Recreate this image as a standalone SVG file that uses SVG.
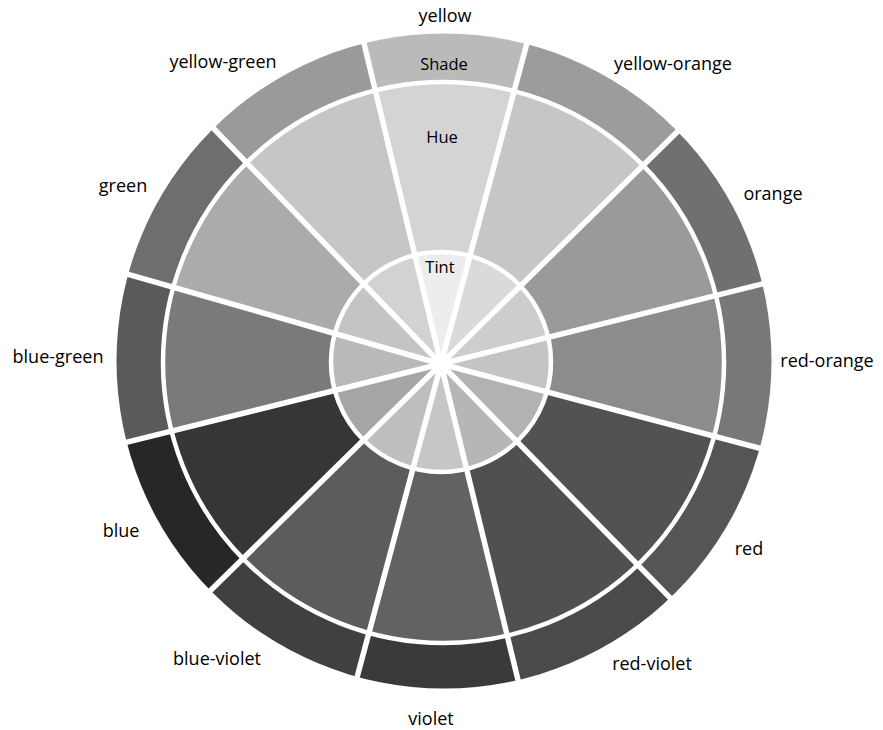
<svg xmlns="http://www.w3.org/2000/svg" width="883" height="730" viewBox="0 0 883 730">
<style>
  .lbl { font-family: "Open Sans", "Noto Sans", sans-serif; font-size: 18px; fill: #000; text-anchor: middle; }
  .ring { font-family: "Open Sans", "Noto Sans", sans-serif; font-size: 16.5px; fill: #000; text-anchor: middle; }
  .div { stroke: #fff; stroke-width: 5.5; fill: none; }
  .rl { stroke: #fff; stroke-width: 4.5; fill: none; }
</style>
<defs>
  <clipPath id="w-ro"><polygon points="441,364 827.7,466.2 829.1,267.2"/></clipPath>
  <clipPath id="w-o"><polygon points="441,364 829.1,267.2 726.3,83.6"/></clipPath>
  <clipPath id="w-yo"><polygon points="441,364 726.3,83.6 544.5,-22.4"/></clipPath>
  <clipPath id="w-y"><polygon points="441,364 544.5,-22.4 347.6,-25"/></clipPath>
  <clipPath id="w-yg"><polygon points="441,364 347.6,-25 163.1,76.3"/></clipPath>
  <clipPath id="w-g"><polygon points="441,364 163.1,76.3 56.5,253.8"/></clipPath>
  <clipPath id="w-bg"><polygon points="441,364 56.5,253.8 52.9,460.8"/></clipPath>
  <clipPath id="w-b"><polygon points="441,364 52.9,460.8 155.7,644.4"/></clipPath>
  <clipPath id="w-bv"><polygon points="441,364 155.7,644.4 337.5,750.4"/></clipPath>
  <clipPath id="w-v"><polygon points="441,364 337.5,750.4 535.7,752.6"/></clipPath>
  <clipPath id="w-rv"><polygon points="441,364 535.7,752.6 720.9,649.7"/></clipPath>
  <clipPath id="w-r"><polygon points="441,364 720.9,649.7 827.7,466.2"/></clipPath>
</defs>
<rect width="883" height="730" fill="#fff"/>

<g id="seg-yellow">
  <g clip-path="url(#w-y)">
    <circle cx="444" cy="361" r="327.5" fill="#bababa"/>
    <circle cx="443.5" cy="362.5" r="280.5" fill="#d4d4d4"/>
    <circle cx="441" cy="362" r="110" fill="#ededed"/>
  </g>
  <text class="lbl" x="445" y="22">yellow</text>
</g>
<g id="seg-yellow-orange">
  <g clip-path="url(#w-yo)">
    <circle cx="444" cy="361" r="327.5" fill="#9c9c9c"/>
    <circle cx="443.5" cy="362.5" r="280.5" fill="#c6c6c6"/>
    <circle cx="441" cy="362" r="110" fill="#dadada"/>
  </g>
  <text class="lbl" x="673" y="70">yellow-orange</text>
</g>
<g id="seg-orange">
  <g clip-path="url(#w-o)">
    <circle cx="444" cy="361" r="327.5" fill="#707070"/>
    <circle cx="443.5" cy="362.5" r="280.5" fill="#9a9a9a"/>
    <circle cx="441" cy="362" r="110" fill="#cdcdcd"/>
  </g>
  <text class="lbl" x="773" y="200">orange</text>
</g>
<g id="seg-red-orange">
  <g clip-path="url(#w-ro)">
    <circle cx="444" cy="361" r="327.5" fill="#787878"/>
    <circle cx="443.5" cy="362.5" r="280.5" fill="#8c8c8c"/>
    <circle cx="441" cy="362" r="110" fill="#c4c4c4"/>
  </g>
  <text class="lbl" x="827" y="367">red-orange</text>
</g>
<g id="seg-red">
  <g clip-path="url(#w-r)">
    <circle cx="444" cy="361" r="327.5" fill="#555555"/>
    <circle cx="443.5" cy="362.5" r="280.5" fill="#525252"/>
    <circle cx="441" cy="362" r="110" fill="#b2b2b2"/>
  </g>
  <text class="lbl" x="749" y="555">red</text>
</g>
<g id="seg-red-violet">
  <g clip-path="url(#w-rv)">
    <circle cx="444" cy="361" r="327.5" fill="#4a4a4a"/>
    <circle cx="443.5" cy="362.5" r="280.5" fill="#505050"/>
    <circle cx="441" cy="362" r="110" fill="#b6b6b6"/>
  </g>
  <text class="lbl" x="652" y="670">red-violet</text>
</g>
<g id="seg-violet">
  <g clip-path="url(#w-v)">
    <circle cx="444" cy="361" r="327.5" fill="#3a3a3a"/>
    <circle cx="443.5" cy="362.5" r="280.5" fill="#626262"/>
    <circle cx="441" cy="362" r="110" fill="#c6c6c6"/>
  </g>
  <text class="lbl" x="431" y="725">violet</text>
</g>
<g id="seg-blue-violet">
  <g clip-path="url(#w-bv)">
    <circle cx="444" cy="361" r="327.5" fill="#404040"/>
    <circle cx="443.5" cy="362.5" r="280.5" fill="#5c5c5c"/>
    <circle cx="441" cy="362" r="110" fill="#bebebe"/>
  </g>
  <text class="lbl" x="217" y="665">blue-violet</text>
</g>
<g id="seg-blue">
  <g clip-path="url(#w-b)">
    <circle cx="444" cy="361" r="327.5" fill="#272727"/>
    <circle cx="443.5" cy="362.5" r="280.5" fill="#363636"/>
    <circle cx="441" cy="362" r="110" fill="#a6a6a6"/>
  </g>
  <text class="lbl" x="121" y="537">blue</text>
</g>
<g id="seg-blue-green">
  <g clip-path="url(#w-bg)">
    <circle cx="444" cy="361" r="327.5" fill="#5a5a5a"/>
    <circle cx="443.5" cy="362.5" r="280.5" fill="#7a7a7a"/>
    <circle cx="441" cy="362" r="110" fill="#b9b9b9"/>
  </g>
  <text class="lbl" x="58" y="363">blue-green</text>
</g>
<g id="seg-green">
  <g clip-path="url(#w-g)">
    <circle cx="444" cy="361" r="327.5" fill="#6e6e6e"/>
    <circle cx="443.5" cy="362.5" r="280.5" fill="#ababab"/>
    <circle cx="441" cy="362" r="110" fill="#c4c4c4"/>
  </g>
  <text class="lbl" x="123" y="192">green</text>
</g>
<g id="seg-yellow-green">
  <g clip-path="url(#w-yg)">
    <circle cx="444" cy="361" r="327.5" fill="#9a9a9a"/>
    <circle cx="443.5" cy="362.5" r="280.5" fill="#c6c6c6"/>
    <circle cx="441" cy="362" r="110" fill="#d2d2d2"/>
  </g>
  <text class="lbl" x="223" y="68">yellow-green</text>
</g>

<g id="connectors">
  <circle class="rl" cx="443.5" cy="362.5" r="280.5"/>
  <circle class="rl" cx="441" cy="362" r="110"/>
  <line class="div" x1="441" y1="364" x2="770.9" y2="281.8"/>
  <line class="div" x1="441" y1="364" x2="683.5" y2="125.7"/>
  <line class="div" x1="441" y1="364" x2="529" y2="35.6"/>
  <line class="div" x1="441" y1="364" x2="361.6" y2="33.4"/>
  <line class="div" x1="441" y1="364" x2="204.8" y2="119.4"/>
  <line class="div" x1="441" y1="364" x2="114.2" y2="270.3"/>
  <line class="div" x1="441" y1="364" x2="111.1" y2="446.2"/>
  <line class="div" x1="441" y1="364" x2="198.5" y2="602.3"/>
  <line class="div" x1="441" y1="364" x2="353" y2="692.4"/>
  <line class="div" x1="441" y1="364" x2="521.5" y2="694.3"/>
  <line class="div" x1="441" y1="364" x2="678.9" y2="606.9"/>
  <line class="div" x1="441" y1="364" x2="769.7" y2="450.8"/>
</g>

<g id="ring-labels">
  <text class="ring" x="444" y="70">Shade</text>
  <text class="ring" x="442" y="143">Hue</text>
  <text class="ring" x="440" y="273">Tint</text>
</g>
</svg>
